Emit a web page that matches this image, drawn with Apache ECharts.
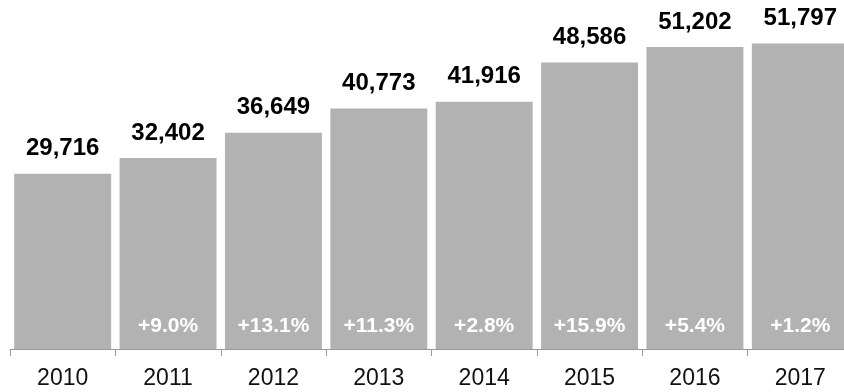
<!DOCTYPE html>
<html>
<head>
<meta charset="utf-8">
<script src="https://cdn.jsdelivr.net/npm/echarts@6/dist/echarts.min.js"></script>
<style>
  html, body { margin: 0; padding: 0; background: #fff; overflow: hidden; }
  /* the plot runs slightly past the right edge of the window */
  #chart { width: 853px; height: 392px; }
</style>
</head>
<body>
<div id="chart"></div>
<script>
// Yearly totals and growth over the previous year
const years = ['2010', '2011', '2012', '2013', '2014', '2015', '2016', '2017'];
const totals = [29716, 32402, 36649, 40773, 41916, 48586, 51202, 51797];
const growth = ['', '+9.0%', '+13.1%', '+11.3%', '+2.8%', '+15.9%', '+5.4%', '+1.2%'];

const FONT = 'Helvetica, Arial, "Liberation Sans", sans-serif';
const chart = echarts.init(document.getElementById('chart'));

chart.setOption({
  animation: false,
  grid: { left: 10, right: 0, top: 1, bottom: 43, containLabel: false },
  xAxis: {
    type: 'category',
    data: years,
    axisLine: { lineStyle: { color: '#9a9a9a', width: 1 } },
    axisTick: { show: true, length: 7, lineStyle: { color: '#9a9a9a' } },
    axisLabel: { color: '#111', fontSize: 23, fontFamily: FONT, margin: 18 }
  },
  yAxis: {
    type: 'value', min: 0, max: 59000,
    show: false, splitLine: { show: false }
  },
  series: [
    {
      type: 'bar',
      data: totals,
      barCategoryGap: '8%',
      itemStyle: { color: '#b2b2b2' },
      label: {
        show: true, position: 'top', distance: 13,
        color: '#000', fontSize: 24, fontWeight: 'bold', fontFamily: FONT,
        formatter: p => p.value.toLocaleString('en-US')
      }
    },
    {
      // growth labels sitting at the foot of each bar
      type: 'bar',
      data: totals,
      barGap: '-100%',
      barCategoryGap: '8%',
      itemStyle: { color: 'transparent' },
      silent: true,
      label: {
        show: true, position: 'insideBottom', distance: 12,
        color: '#fff', fontSize: 21, fontWeight: 'bold', fontFamily: FONT,
        formatter: p => growth[p.dataIndex]
      }
    }
  ]
});
</script>
</body>
</html>
